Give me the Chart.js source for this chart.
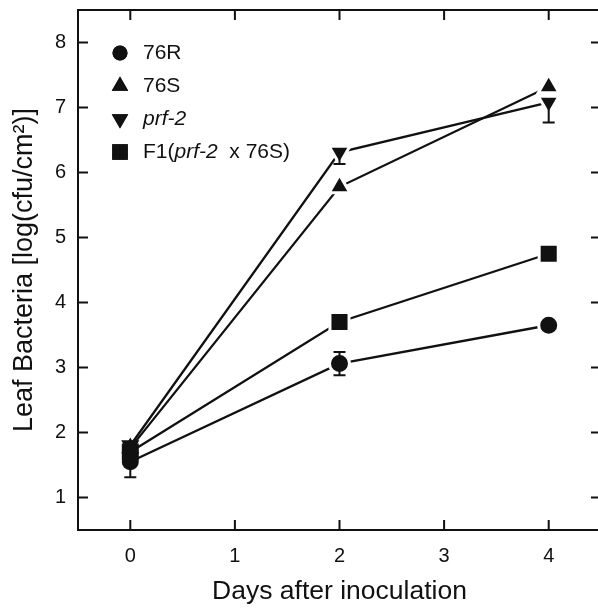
<!DOCTYPE html>
<html>
<head>
<meta charset="utf-8">
<script src="https://cdn.jsdelivr.net/npm/chart.js@4.4.1/dist/chart.umd.min.js"></script>
<style>
html, body { margin: 0; padding: 0; background: #fff; overflow: hidden; }
#wrap { width: 604px; height: 608px; }
</style>
</head>
<body>
<div id="wrap"><canvas id="bacteriaChart" width="604" height="608"></canvas></div>
<script>
// values
const days = [0, 2, 4];
const xTicks = [0, 1, 2, 3, 4];
const yTicks = [1, 2, 3, 4, 5, 6, 7, 8];
const seriesNames = ['76R', '76S', 'prf-2', 'F1(prf-2  x 76S)'];

const r76 = [1.55, 3.06, 3.65];
const r76ErrUp = [0.24, 0.18, 0];
const r76ErrDown = [0.24, 0.18, 0];
const s76 = [1.76, 5.78, 7.32];
const s76ErrUp = [0, 0, 0];
const s76ErrDown = [0, 0, 0];
const prf2 = [1.8, 6.31, 7.08];
const prf2ErrUp = [0, 0, 0];
const prf2ErrDown = [0, 0.18, 0.31];
const f1 = [1.7, 3.7, 4.75];
const f1ErrUp = [0, 0, 0];
const f1ErrDown = [0, 0, 0];

const ink = '#111';
Chart.defaults.font.family = "'Liberation Sans', Arial, sans-serif";
Chart.defaults.color = ink;

function makeSet(label, values, errUp, errDown, style, radius, rotation) {
    return {
        label: label,
        data: days.map((d, i) => ({ x: d, y: values[i] })),
        errUp: errUp,
        errDown: errDown,
        borderColor: ink,
        borderWidth: 2.3,
        pointStyle: style,
        pointRotation: rotation || 0,
        pointBackgroundColor: ink,
        pointBorderColor: '#fff',
        pointBorderWidth: ctx => ctx.dataIndex === 0 ? 0 : 3,
        pointRadius: ctx => ctx.dataIndex === 0 ? radius - 1.5 : radius,
        legendRadius: radius - 2.5,
        fill: false,
        tension: 0
    };
}

const errorBars = {
    id: 'errorBars',
    afterDatasetsDraw(chart) {
        const ctx = chart.ctx;
        const y = chart.scales.y;
        ctx.save();
        ctx.strokeStyle = ink;
        ctx.lineWidth = 2;
        chart.data.datasets.forEach((ds, i) => {
            const meta = chart.getDatasetMeta(i);
            meta.data.forEach((pt, j) => {
                const v = ds.data[j].y;
                [ds.errUp[j], -ds.errDown[j]].forEach(e => {
                    if (!e) return;
                    const end = y.getPixelForValue(v + e);
                    ctx.beginPath();
                    ctx.moveTo(pt.x, pt.y); ctx.lineTo(pt.x, end);
                    ctx.moveTo(pt.x - 6, end); ctx.lineTo(pt.x + 6, end);
                    ctx.stroke();
                });
            });
        });
        ctx.restore();
    }
};

const frame = {
    id: 'frame',
    afterDraw(chart) {
        const ctx = chart.ctx;
        const a = chart.chartArea;
        const x = chart.scales.x, y = chart.scales.y;
        const len = 10;
        ctx.save();
        ctx.strokeStyle = ink;
        ctx.lineWidth = 2;
        ctx.strokeRect(a.left, a.top, a.right - a.left, a.bottom - a.top);
        ctx.beginPath();
        xTicks.forEach(v => {
            const px = x.getPixelForValue(v);
            ctx.moveTo(px, a.bottom); ctx.lineTo(px, a.bottom - len);
            ctx.moveTo(px, a.top); ctx.lineTo(px, a.top + len);
        });
        yTicks.forEach(v => {
            const py = y.getPixelForValue(v);
            ctx.moveTo(a.left, py); ctx.lineTo(a.left + len, py);
            ctx.moveTo(a.right, py); ctx.lineTo(a.right - len, py);
        });
        ctx.stroke();
        ctx.restore();
    }
};

// legend in the upper left corner, with the prf-2 name in italics
const insideLegend = {
    id: 'insideLegend',
    afterDraw(chart) {
        const ctx = chart.ctx;
        const a = chart.chartArea;
        const fam = "'Liberation Sans', Arial, sans-serif";
        ctx.save();
        ctx.textBaseline = 'middle';
        ctx.fillStyle = ink;
        chart.data.datasets.forEach((ds, i) => {
            const cy = a.top + 43 + i * 33;
            const mx = a.left + 42;
            Chart.helpers.drawPoint(ctx, {
                pointStyle: ds.pointStyle,
                rotation: ds.pointRotation,
                radius: ds.legendRadius,
                borderWidth: 0
            }, mx, cy);
            ctx.fillStyle = ink;
            ctx.fill();
            let tx = a.left + 65;
            const parts = ds.label.split(/(prf-2)/);
            parts.forEach(p => {
                if (!p) return;
                ctx.font = (p === 'prf-2' ? 'italic ' : '') + '21px ' + fam;
                ctx.fillText(p, tx, cy);
                tx += ctx.measureText(p).width;
            });
        });
        ctx.restore();
    }
};

new Chart(document.getElementById('bacteriaChart'), {
    type: 'line',
    data: {
        datasets: [
            makeSet(seriesNames[0], r76, r76ErrUp, r76ErrDown, 'circle', 10),
            makeSet(seriesNames[1], s76, s76ErrUp, s76ErrDown, 'triangle', 12),
            makeSet(seriesNames[2], prf2, prf2ErrUp, prf2ErrDown, 'triangle', 12, 180),
            makeSet(seriesNames[3], f1, f1ErrUp, f1ErrDown, 'rect', 13.5)
        ]
    },
    options: {
        responsive: false,
        animation: false,
        events: [],
        layout: { autoPadding: false, padding: { top: 10, right: 3, left: 0, bottom: 0 } },
        plugins: {
            legend: { display: false },
            tooltip: { enabled: false }
        },
        scales: {
            x: {
                type: 'linear',
                min: -0.5,
                max: 4.5,
                afterBuildTicks: s => { s.ticks = xTicks.map(v => ({ value: v })); },
                afterFit: s => { s.height = 78; s.paddingLeft = 0; s.paddingRight = 0; },
                grid: { display: true, drawOnChartArea: false, drawTicks: false },
                border: { display: false },
                ticks: { font: { size: 20 }, color: ink, padding: 14, maxRotation: 0 },
                title: {
                    display: true,
                    text: 'Days after inoculation',
                    font: { size: 26.5 },
                    color: ink,
                    padding: { top: 0, bottom: 0 }
                }
            },
            y: {
                type: 'linear',
                min: 0.5,
                max: 8.5,
                afterBuildTicks: s => { s.ticks = yTicks.map(v => ({ value: v })); },
                afterFit: s => { s.width = 78; s.paddingTop = 0; s.paddingBottom = 0; },
                grid: { display: true, drawOnChartArea: false, drawTicks: false },
                border: { display: false },
                ticks: { font: { size: 20 }, color: ink, padding: 12 },
                title: {
                    display: true,
                    text: 'Leaf Bacteria [log(cfu/cm²)]',
                    font: { size: 27 },
                    color: ink,
                    padding: { top: 8, bottom: 0 }
                }
            }
        }
    },
    plugins: [errorBars, frame, insideLegend]
});
</script>
</body>
</html>
